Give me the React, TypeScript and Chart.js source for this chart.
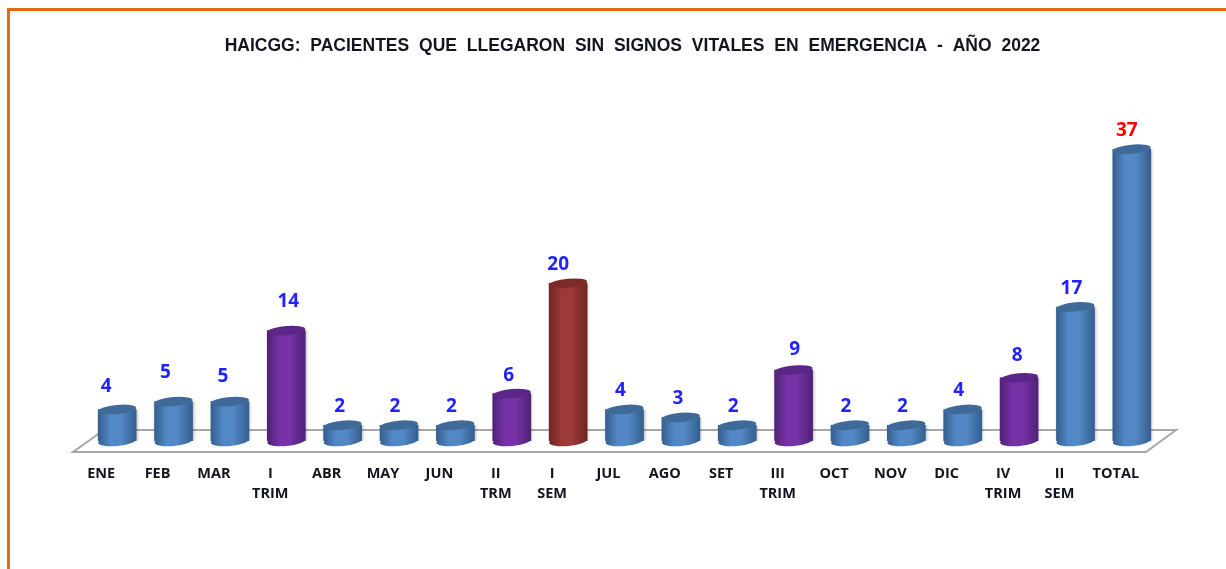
import React, { useEffect, useRef } from "react";
import { Chart, registerables } from "chart.js";

Chart.register(...registerables);

const categories: (string | string[])[] = [
  "ENE", "FEB", "MAR", ["I", "TRIM"], "ABR", "MAY", "JUN", ["II", "TRM"], ["I", "SEM"],
  "JUL", "AGO", "SET", ["III", "TRIM"], "OCT", "NOV", "DIC", ["IV", "TRIM"], ["II", "SEM"], "TOTAL",
];
const patients = [4, 5, 5, 14, 2, 2, 2, 6, 20, 4, 3, 2, 9, 2, 2, 4, 8, 17, 37];
const barKinds = ["m", "m", "m", "t", "m", "m", "m", "t", "s", "m", "m", "m", "t", "m", "m", "m", "t", "m", "m"];
const chartTitle = "HAICGG: PACIENTES QUE LLEGARON SIN SIGNOS VITALES EN EMERGENCIA - AÑO 2022";

// Placement tweaks for the value labels (relative to the top of each bar)
const labelDx = [-11, -8, -7, 2, -3, -4, -4, -3, -10, -4, -3, -4, 1, -4, -4, -4, -2, -4, -5];
const labelDy = [-23, -29, -25, -29, -19, -19, -19, -18, -19, -19, -19, -19, -20, -19, -19, -19, -22, -18, -19];

const palette: Record<string, { edge: string; mid: string; top: string }> = {
  m: { edge: "#345f8e", mid: "#5288c6", top: "#3f6a98" },
  t: { edge: "#4f2176", mid: "#7632a6", top: "#5c2688" },
  s: { edge: "#6e2623", mid: "#9b3a36", top: "#7c2b28" },
};
const FONT_UI = '"Open Sans", "Noto Sans", sans-serif';

function barGradient(chart: any, i: number) {
  const x = chart.scales.x?.getPixelForValue(i);
  const c = palette[barKinds[i]];
  if (!Number.isFinite(x)) return c.mid;
  const g = chart.ctx.createLinearGradient(x - 19, 0, x + 19, 0);
  g.addColorStop(0, c.edge);
  g.addColorStop(0.32, c.mid);
  g.addColorStop(0.6, c.mid);
  g.addColorStop(1, c.edge);
  return g;
}

const cylinderPlugin = {
  id: "cylinder",
  afterLayout(chart: any) {
    if (chart.titleBlock) {
      chart.titleBlock.left += 8;
      chart.titleBlock.right += 8;
    }
  },
  beforeDraw(chart: any) {
    const { ctx, width, height } = chart;
    ctx.save();
    ctx.fillStyle = "#ffffff";
    ctx.fillRect(0, 0, width, height);
    ctx.fillStyle = "#e36c0a";
    ctx.fillRect(7, 8, width - 7, 3);
    ctx.fillRect(7, 8, 3, height - 8);
    ctx.restore();
    ctx.wordSpacing = "5px";
  },
  beforeDatasetsDraw(chart: any) {
    const { ctx, chartArea } = chart;
    ctx.wordSpacing = "0px";
    const b = chartArea.bottom;
    const l = chartArea.left;
    const r = chartArea.right;
    ctx.save();
    ctx.strokeStyle = "#a8a8a8";
    ctx.lineWidth = 2;
    ctx.beginPath();
    ctx.moveTo(l - 16, b + 11);
    ctx.lineTo(r - 14, b + 11);
    ctx.lineTo(r + 16, b - 11);
    ctx.lineTo(l + 15, b - 11);
    ctx.closePath();
    ctx.stroke();
    const meta = chart.getDatasetMeta(0);
    meta.data.forEach((bar: any, i: number) => {
      ctx.fillStyle = barGradient(chart, i);
      ctx.beginPath();
      ctx.ellipse(bar.x, bar.base, 19, 5, -0.09, 0, Math.PI * 2);
      ctx.fill();
    });
    ctx.restore();
  },
  beforeDatasetDraw(chart: any) {
    const { ctx } = chart;
    ctx.save();
    ctx.shadowColor = "rgba(0,0,0,0.3)";
    ctx.shadowBlur = 3;
    ctx.shadowOffsetX = 1;
  },
  afterDatasetDraw(chart: any) {
    chart.ctx.restore();
  },
  afterDatasetsDraw(chart: any) {
    const { ctx } = chart;
    const meta = chart.getDatasetMeta(0);
    ctx.save();
    meta.data.forEach((bar: any, i: number) => {
      ctx.fillStyle = palette[barKinds[i]].top;
      ctx.beginPath();
      ctx.ellipse(bar.x, bar.y, 19, 4.6, -0.09, 0, Math.PI * 2);
      ctx.fill();
      ctx.font = `bold 19px ${FONT_UI}`;
      ctx.textAlign = "center";
      ctx.textBaseline = "middle";
      ctx.fillStyle = i === patients.length - 1 ? "#ff0000" : "#2222ff";
      ctx.fillText(String(patients[i]), bar.x + labelDx[i], bar.y + labelDy[i]);
    });
    ctx.restore();
  },
};

export default function App() {
  const ref = useRef<HTMLCanvasElement>(null);
  useEffect(() => {
    if (!ref.current) return;
    const chart = new Chart(ref.current, {
      type: "bar",
      data: {
        labels: categories as any,
        datasets: [
          {
            data: patients,
            barThickness: 38,
            borderWidth: 0,
            backgroundColor: (c: any) => barGradient(c.chart, c.dataIndex),
          },
        ],
      },
      options: {
        responsive: false,
        animation: false,
        layout: { padding: { left: 89, right: 66, top: 0, bottom: 0 } },
        plugins: {
          legend: { display: false },
          tooltip: { enabled: false },
          title: {
            display: true,
            text: chartTitle,
            color: "#14141e",
            font: { family: '"Liberation Sans", Arial, sans-serif', size: 17.5, weight: "bold", lineHeight: 1.2 },
            padding: { top: 36, bottom: 68.6 },
          },
        },
        scales: {
          y: { display: false, min: 0, max: 40 },
          x: {
            border: { display: false },
            grid: { display: false, drawTicks: false },
            afterFit(s: any) {
              s.height = 128;
            },
            ticks: {
              padding: 23,
              labelOffset: -16,
              maxRotation: 0,
              autoSkip: false,
              color: "#14141e",
              font: { family: FONT_UI, size: 14.5, weight: "bold", lineHeight: 1.38 },
            },
          },
        },
      },
      plugins: [cylinderPlugin],
    } as any);
    return () => chart.destroy();
  }, []);
  return (
    <div style={{ position: "fixed", left: 0, top: 0, width: 1226, height: 569 }}>
      <canvas ref={ref} width={1226} height={569} style={{ display: "block" }} />
    </div>
  );
}
